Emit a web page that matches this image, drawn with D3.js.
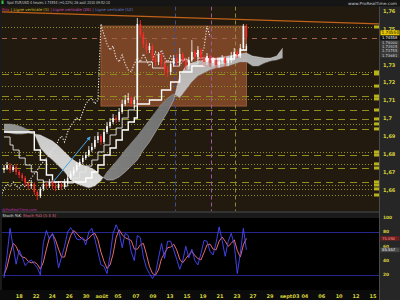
<!DOCTYPE html>
<html><head><meta charset="utf-8">
<script src="https://cdn.jsdelivr.net/npm/d3@7/dist/d3.min.js"></script>
<style>
html,body{margin:0;padding:0;background:#1b1b1b;overflow:hidden}
svg{display:block}
text{font-family:"DejaVu Sans",sans-serif}
</style></head><body>
<svg id="chart" width="400" height="300"></svg>
<script>
// ---------------- DATA ----------------
const firstOpen = 1.6712;
const closes = [1.6723,1.6740,1.6712,1.6729,1.6701,1.6684,1.6667,1.6639,1.6622,1.6634,
1.6589,1.6566,1.6606,1.6634,1.6622,1.6645,1.6622,1.6611,1.6634,1.6617,
1.6645,1.6667,1.6690,1.6712,1.6740,1.6757,1.6779,1.6796,1.6824,1.6841,
1.6880,1.6902,1.6869,1.6925,1.6958,1.6981,1.7003,1.6992,1.7037,1.7082,
1.7104,1.7115,1.7082,1.7104,1.7530,1.7468,1.7418,1.7384,1.7406,1.7339,
1.7317,1.7356,1.7306,1.7272,1.7261,1.7306,1.7339,1.7317,1.7362,1.7328,
1.7294,1.7328,1.7373,1.7345,1.7384,1.7339,1.7317,1.7350,1.7311,1.7328,
1.7300,1.7322,1.7339,1.7311,1.7328,1.7350,1.7373,1.7356,1.7395,1.7518,1.7457];
const highs = [1.6740,1.6757,1.6751,1.6740,1.6746,1.6712,1.6695,1.6678,1.6650,1.6656,
1.6645,1.6600,1.6617,1.6650,1.6645,1.6662,1.6656,1.6639,1.6650,1.6645,
1.6662,1.6684,1.6706,1.6729,1.6757,1.6774,1.6796,1.6813,1.6846,1.6863,
1.6902,1.6925,1.6914,1.6942,1.6981,1.7003,1.7026,1.7020,1.7059,1.7104,
1.7132,1.7143,1.7126,1.7121,1.7563,1.7552,1.7485,1.7440,1.7423,1.7418,
1.7356,1.7373,1.7373,1.7328,1.7294,1.7322,1.7356,1.7362,1.7395,1.7373,
1.7345,1.7345,1.7440,1.7384,1.7406,1.7395,1.7356,1.7367,1.7362,1.7345,
1.7345,1.7339,1.7356,1.7350,1.7345,1.7373,1.7395,1.7384,1.7418,1.7530,1.7530];
const lows = [1.6695,1.6712,1.6695,1.6701,1.6684,1.6667,1.6650,1.6622,1.6600,1.6606,
1.6572,1.6544,1.6555,1.6594,1.6606,1.6611,1.6606,1.6594,1.6600,1.6600,
1.6606,1.6634,1.6656,1.6678,1.6701,1.6729,1.6746,1.6768,1.6785,1.6813,
1.6830,1.6863,1.6852,1.6858,1.6914,1.6947,1.6970,1.6975,1.6981,1.7026,
1.7070,1.7087,1.7065,1.7059,1.7082,1.7451,1.7395,1.7362,1.7367,1.7317,
1.7294,1.7300,1.7283,1.7244,1.7233,1.7244,1.7289,1.7294,1.7306,1.7311,
1.7272,1.7278,1.7317,1.7328,1.7334,1.7322,1.7294,1.7300,1.7289,1.7294,
1.7278,1.7283,1.7306,1.7289,1.7294,1.7311,1.7334,1.7339,1.7339,1.7384,1.7440];

const tenkanIdx = [0,2,3,5,7,9,11,13,20,21,23,25,27,29,31,33,35,37,39,41,43,44,49,53,56,58,61,64,67,70,73,76,78,80];
const tenkanVal = [1.6897,1.6852,1.6824,1.6779,1.6740,1.6701,1.6656,1.6645,1.6622,1.6639,1.6667,1.6701,1.6734,1.6768,1.6813,1.6852,1.6908,1.6947,1.7003,1.7048,1.7070,1.7317,1.7283,1.7317,1.7294,1.7328,1.7306,1.7339,1.7328,1.7311,1.7328,1.7350,1.7384,1.7418];
const kijunIdx = [0,9,10,12,14,16,27,29,31,33,35,37,39,41,43,44,48,52,55,58,62,66,76,78,80];
const kijunVal = [1.6925,1.6925,1.6824,1.6768,1.6684,1.6645,1.6667,1.6701,1.6740,1.6796,1.6835,1.6880,1.6936,1.6981,1.7003,1.7082,1.7104,1.7160,1.7205,1.7261,1.7294,1.7334,1.7356,1.7384,1.7406];

const cloudIdx = [0,2,4,6,8,10,12,14,16,18,20,22,24,26,28,30,32,34,36,38,40,42,44,46,48,50,52,54,56,58,60,62,64,66,68,70,72,74,76,78,80,82,84,86,88,90,92];
const senkouA = [1.6925,1.6919,1.6914,1.6914,1.6919,1.6914,1.6908,1.6891,1.6874,1.6846,1.6813,1.6779,1.6757,1.6740,1.6729,1.6712,1.6678,1.6656,1.6656,1.6673,1.6701,1.6734,1.6768,1.6824,1.6869,1.6925,1.6981,1.7037,1.7104,1.7238,1.7294,1.7311,1.7322,1.7328,1.7334,1.7339,1.7345,1.7350,1.7356,1.7362,1.7367,1.7350,1.7345,1.7339,1.7339,1.7350,1.7395];
const senkouB = [1.6970,1.6970,1.6964,1.6953,1.6936,1.6914,1.6835,1.6796,1.6768,1.6734,1.6701,1.6656,1.6634,1.6622,1.6611,1.6622,1.6650,1.6701,1.6740,1.6779,1.6824,1.6863,1.6902,1.6947,1.6992,1.7037,1.7082,1.7115,1.7138,1.7115,1.7160,1.7205,1.7238,1.7255,1.7272,1.7283,1.7289,1.7294,1.7306,1.7317,1.7317,1.7294,1.7294,1.7311,1.7322,1.7328,1.7339];
const chikouShift = 12;

const stochK = [16,47,85,60,35,55,45,33,38,41,35,30,20,65,82,70,78,59,30,45,60,80,86,79,70,69,72,62,80,85,70,52,34,32,22,47,78,90,80,58,78,75,52,40,75,72,45,30,22,15,22,44,64,43,67,67,55,42,28,40,60,44,56,40,34,50,68,67,53,48,65,87,68,46,67,78,62,22,50,85,55];
const stochD = [20,31,49,64,60,50,45,44,39,37,38,35,28,38,56,72,77,69,56,45,45,62,75,82,78,73,70,68,71,76,78,69,52,39,29,34,49,72,83,76,72,70,68,56,56,62,64,49,32,22,20,27,43,50,58,59,63,55,42,37,43,48,53,47,43,41,51,62,63,56,55,67,73,67,60,64,69,54,45,62,71];

const dottedLevels = [1.7513,1.7261,1.7182,1.7110,1.6970,1.6813,1.6746,1.6628,1.6606,1.6572];
const dashedLevels = [1.7250,1.7126,1.7048,1.6998,1.6942,1.6796,1.6723,1.6645];
const accentLevels = [1.7451];
const verticalLineIdx = [56.4, 68.3, 76.2];           // Ligne verticale (52), (26), (5)
const boxIdx = [32, 80];
const boxPrice = [1.7070, 1.7518];
const blueTrend = [[16.2, 1.6645], [28.4, 1.6897]];
const orangeTrend = [[-0.66, 1.7597], [123.8, 1.7530]];

const priceTicks = [1.76, 1.75, 1.73, 1.72, 1.71, 1.70, 1.69, 1.68, 1.67, 1.66];
const stochTicks = [100, 80, 60, 40, 20];
const xTickIdx = [5, 10.6, 15.9, 21.5, 27.1, 32.3, 37.6, 43.6, 49.2, 54.8, 60.4, 65.7, 71.3, 76.9, 82.2, 87.8, 93.4, 96.4, 99.3, 104.9, 110.6, 116.2, 121.8];
const xTickLabels = ["18","22","24","26","30","août","05","07","09","13","15","19","21","23","27","29","sept.","03","04","06","10","12","15"];
const lastPrice = 1.74554;
const sideLabels = ["1.74554", "1.74558", "1.74000", "1.73925", "1.73755", "1.73681"];
const stochLast = ["75.092", "55.557"];
const legendTexts = ["Prix", "| Ligne verticale (5)", "| Ligne verticale (26)", "| Ligne verticale (52)"];

// ---------------- LAYOUT ----------------
const svg = d3.select("#chart");
const L = 2, R = 379, MT = 6.5, MB = 211, ST = 213, SB = 290;

const x = d3.scaleLinear().domain([0, 80]).range([4, 246.4]);
const y = d3.scaleLinear().domain([1.66, 1.73]).range([190, 65]);
const ys = d3.scaleLinear().domain([0, 100]).range([289.3, 217.6]);

const defs = svg.append("defs");
defs.append("clipPath").attr("id", "mainClip").append("rect")
  .attr("x", L).attr("y", MT).attr("width", R - L).attr("height", MB - MT);
defs.append("clipPath").attr("id", "stClip").append("rect")
  .attr("x", L).attr("y", ST).attr("width", R - L).attr("height", SB - ST);
const gl = defs.append("linearGradient").attr("id", "gLight").attr("x1", 0).attr("x2", 0).attr("y1", 0).attr("y2", 1);
gl.append("stop").attr("offset", "0%").attr("stop-color", "#b4b4b4");
gl.append("stop").attr("offset", "100%").attr("stop-color", "#e6e6e6");
const gd = defs.append("linearGradient").attr("id", "gDark").attr("x1", 0).attr("x2", 1).attr("y1", 0).attr("y2", 0);
gd.append("stop").attr("offset", "0%").attr("stop-color", "#9a9a9a");
gd.append("stop").attr("offset", "100%").attr("stop-color", "#5e5e5e");

// backgrounds
svg.append("rect").attr("width", 400).attr("height", 300).attr("fill", "#1b1b1b");
svg.append("rect").attr("x", 0).attr("y", 0).attr("width", 400).attr("height", MT).attr("fill", "#151515");
svg.append("rect").attr("x", L).attr("y", MT).attr("width", R - L).attr("height", MB - MT).attr("fill", "#231a0f");
svg.append("rect").attr("x", L).attr("y", MB).attr("width", R - L).attr("height", ST - MB).attr("fill", "#333");
svg.append("rect").attr("x", L).attr("y", ST).attr("width", R - L).attr("height", SB - ST).attr("fill", "#000");
svg.append("rect").attr("x", 0).attr("y", SB).attr("width", 380).attr("height", 300 - SB).attr("fill", "#0b0b0b");
svg.append("rect").attr("x", 380).attr("y", MT).attr("width", 20).attr("height", 300 - MT).attr("fill", "#262626");
svg.append("line").attr("x1", 379.5).attr("x2", 379.5).attr("y1", MT).attr("y2", 300).attr("stroke", "#4a4a4a");

// ---------------- MAIN PANEL ----------------
const main = svg.append("g").attr("clip-path", "url(#mainClip)");

// orange box
main.append("rect")
  .attr("x", x(boxIdx[0])).attr("y", y(boxPrice[1]))
  .attr("width", x(boxIdx[1]) - x(boxIdx[0])).attr("height", y(boxPrice[0]) - y(boxPrice[1]))
  .attr("fill", "#7a4427").attr("stroke", "#a8643a").attr("stroke-width", 0.8);

// horizontal levels
const lvColor = "#8f8f1e";
main.selectAll(".dot").data(dottedLevels).join("line")
  .attr("x1", L).attr("x2", R).attr("y1", d => Math.round(y(d)) + 0.5).attr("y2", d => Math.round(y(d)) + 0.5)
  .attr("stroke", lvColor).attr("stroke-width", 1).attr("stroke-dasharray", "1,2");
main.selectAll(".dash").data(dashedLevels).join("line")
  .attr("x1", L).attr("x2", R).attr("y1", d => Math.round(y(d)) + 0.5).attr("y2", d => Math.round(y(d)) + 0.5)
  .attr("stroke", lvColor).attr("stroke-width", 1).attr("stroke-dasharray", "7,5");
main.selectAll(".acc").data(accentLevels).join("line")
  .attr("x1", L).attr("x2", R).attr("y1", d => Math.round(y(d)) + 0.5).attr("y2", d => Math.round(y(d)) + 0.5)
  .attr("stroke", "#a0604c").attr("stroke-width", 1).attr("stroke-dasharray", "5,5");

// vertical lines
const vColors = ["#3c4f95", "#9a5aa0", "#8d8a3a"];
main.selectAll(".vl").data(verticalLineIdx).join("line")
  .attr("x1", d => Math.round(x(d)) + 0.5).attr("x2", d => Math.round(x(d)) + 0.5)
  .attr("y1", MT).attr("y2", MB)
  .attr("stroke", (d, i) => vColors[i]).attr("stroke-width", 1).attr("stroke-dasharray", "4,3");

// orange trend line
main.append("line")
  .attr("x1", x(orangeTrend[0][0])).attr("y1", y(orangeTrend[0][1]))
  .attr("x2", x(orangeTrend[1][0])).attr("y2", y(orangeTrend[1][1]))
  .attr("stroke", "#c0621a").attr("stroke-width", 1.3);

// cloud
const cloud = cloudIdx.map((c, k) => ({ i: c, a: senkouA[k], b: senkouB[k] }));
defs.append("clipPath").attr("id", "aboveB").append("path")
  .attr("d", d3.area().x(d => x(d.i)).y0(0).y1(d => y(d.b))(cloud));
defs.append("clipPath").attr("id", "belowB").append("path")
  .attr("d", d3.area().x(d => x(d.i)).y0(d => y(d.b)).y1(300)(cloud));
const between = d3.area().x(d => x(d.i)).y0(d => y(d.a)).y1(d => y(d.b));
main.append("g").attr("clip-path", "url(#aboveB)").append("path")
  .attr("d", between(cloud)).attr("fill", "url(#gLight)").attr("fill-opacity", 0.95);
main.append("g").attr("clip-path", "url(#belowB)").append("path")
  .attr("d", between(cloud)).attr("fill", "url(#gDark)").attr("fill-opacity", 0.95);
const lineA = d3.line().x(d => x(d.i)).y(d => y(d.a));
const lineB = d3.line().x(d => x(d.i)).y(d => y(d.b));
main.append("path").attr("d", lineA(cloud)).attr("fill", "none").attr("stroke", "#f0f0f0").attr("stroke-width", 0.6).attr("opacity", 0.6);
main.append("path").attr("d", lineB(cloud)).attr("fill", "none").attr("stroke", "#a0a0a0").attr("stroke-width", 0.6).attr("opacity", 0.6);

// kijun & tenkan
const step = d3.line().curve(d3.curveStepAfter).x(d => x(d[0])).y(d => y(d[1]));
main.append("path").attr("d", step(kijunIdx.map((v, k) => [v, kijunVal[k]])))
  .attr("fill", "none").attr("stroke", "#ffffff").attr("stroke-width", 1.4);
main.append("path").attr("d", step(tenkanIdx.map((v, k) => [v, tenkanVal[k]])))
  .attr("fill", "none").attr("stroke", "#e6e6e6").attr("stroke-width", 0.9);

// chikou (close shifted back)
const chik = closes.map((c, i) => [i - chikouShift, c]).filter(d => d[0] >= -1);
main.append("path").attr("d", d3.line().x(d => x(d[0])).y(d => y(d[1]))(chik))
  .attr("fill", "none").attr("stroke", "#e8e8e8").attr("stroke-width", 1.1).attr("stroke-dasharray", "1.2,1.6");

// candles
const candles = closes.map((c, i) => ({ i, o: i === 0 ? firstOpen : closes[i - 1], c, h: highs[i], l: lows[i] }));
const cg = main.append("g");
cg.selectAll(".wk").data(candles).join("line")
  .attr("x1", d => x(d.i)).attr("x2", d => x(d.i))
  .attr("y1", d => y(d.h)).attr("y2", d => y(d.l))
  .attr("stroke", d => d.c >= d.o ? "#ffffff" : "#ff2b2b").attr("stroke-width", 0.8);
cg.selectAll(".bd").data(candles).join("rect")
  .attr("x", d => x(d.i) - 0.8).attr("width", 1.6)
  .attr("y", d => y(Math.max(d.o, d.c)))
  .attr("height", d => Math.max(1, Math.abs(y(d.o) - y(d.c))))
  .attr("fill", d => d.c >= d.o ? "#ffffff" : "#ff2b2b");

// blue trend line with arrow
defs.append("marker").attr("id", "arr").attr("viewBox", "0 0 6 6").attr("refX", 5).attr("refY", 3)
  .attr("markerWidth", 4).attr("markerHeight", 4).attr("orient", "auto")
  .append("path").attr("d", "M0,0L6,3L0,6Z").attr("fill", "#47a6e6");
main.append("line")
  .attr("x1", x(blueTrend[0][0])).attr("y1", y(blueTrend[0][1]))
  .attr("x2", x(blueTrend[1][0])).attr("y2", y(blueTrend[1][1]))
  .attr("stroke", "#47a6e6").attr("stroke-width", 1).attr("marker-end", "url(#arr)");

// level markers at right edge
main.selectAll(".mk").data(dottedLevels.concat(dashedLevels)).join("rect")
  .attr("x", R - 5).attr("y", d => y(d) - 1.5).attr("width", 5).attr("height", 3).attr("fill", "#b8b21a");

// legend: separate texts laid out one after another
const legendColors = ["#d0409c", "#c8c030", "#c050c0", "#5a78d8"];
let lx = 2;
legendTexts.forEach((t, k) => {
  const tx = svg.append("text").attr("x", lx).attr("y", 11.2).attr("font-size", 3.9)
    .attr("fill", legendColors[k]).text(t);
  lx += tx.node().getComputedTextLength() + 1.6;
});

svg.append("text").attr("x", 2).attr("y", 210.5).attr("font-size", 3.6).attr("fill", "#b030b0").text("@ProRealTime.com");

// header
svg.append("rect").attr("x", 1.5).attr("y", 0.5).attr("width", 2).attr("height", 3.5).attr("fill", "#3fbf3f");
svg.append("text").attr("x", 7).attr("y", 4.4).attr("font-size", 4).attr("fill", "#c8c8c8")
  .attr("textLength", 103).attr("lengthAdjust", "spacingAndGlyphs")
  .text("Spot EUR/USD    4 heures    1.74554 (+0,22%)   26 août 2010 09:52:10");
svg.append("text").attr("x", 348).attr("y", 5).attr("font-size", 4.2).attr("fill", "#c8c8c8")
  .attr("textLength", 49).attr("lengthAdjust", "spacingAndGlyphs").text("www.ProRealTime.com");

// price axis labels
const ax = svg.append("g").attr("font-size", 5).attr("fill", "#d6d23a").attr("font-weight", "bold");
ax.selectAll(".pt").data(priceTicks).join("text")
  .attr("x", 383).attr("y", d => y(d) + 1.5).text(d => String(+d.toFixed(2)).replace(".", ","));

// side price boxes
const sy0 = y(lastPrice) - 4.5;
svg.append("rect").attr("x", 380.5).attr("y", sy0 - 2.4).attr("width", 19).attr("height", 5).attr("fill", "#e8c800");
svg.append("text").attr("x", 381.5).attr("y", sy0 + 1.6).attr("font-size", 4.2).attr("fill", "#000").text(sideLabels[0]);
svg.append("rect").attr("x", 380.5).attr("y", sy0 + 3).attr("width", 19).attr("height", 4.4).attr("fill", "#0e0e0e");
svg.append("rect").attr("x", 380.5).attr("y", sy0 + 7.8).attr("width", 19).attr("height", 17).attr("fill", "#3a3a3a");
sideLabels.slice(1).forEach((t, k) => {
  svg.append("text").attr("x", 382).attr("y", sy0 + 6.6 + k * 4.3).attr("font-size", 3.7)
    .attr("fill", k === 0 ? "#ffffff" : "#dedede").text(t);
});

// ---------------- STOCHASTIC ----------------
svg.append("rect").attr("x", L).attr("y", ST).attr("width", R - L).attr("height", 5).attr("fill", "#1a1a1a");
const t1 = svg.append("text").attr("x", 2.5).attr("y", 217.2).attr("font-size", 3.9).attr("fill", "#e0e0e0").text("Stoch %K");
svg.append("text").attr("x", 2.5 + t1.node().getComputedTextLength() + 2).attr("y", 217.2).attr("font-size", 3.9)
  .attr("fill", "#e06a80").text("Stoch %D (5 3 3)");

const st = svg.append("g").attr("clip-path", "url(#stClip)");
st.selectAll(".sl").data([80, 20]).join("line")
  .attr("x1", L).attr("x2", R).attr("y1", d => Math.round(ys(d)) + 0.5).attr("y2", d => Math.round(ys(d)) + 0.5)
  .attr("stroke", "#26268c").attr("stroke-width", 1);
const sl = d3.line().x((d, i) => x(i)).y(d => ys(d));
st.append("path").attr("d", sl(stochD)).attr("fill", "none").attr("stroke", "#e86a6a").attr("stroke-width", 1);
st.append("path").attr("d", sl(stochK)).attr("fill", "none").attr("stroke", "#4848ff").attr("stroke-width", 0.9);

ax.selectAll(".stt").data(stochTicks).join("text")
  .attr("x", 383).attr("y", d => ys(d) + 1.5).attr("font-size", 4.4).text(d => d);
svg.append("rect").attr("x", 380.5).attr("y", ys(stochD[80]) - 2.3).attr("width", 19).attr("height", 4.6).attr("fill", "#6a2020");
svg.append("text").attr("x", 382).attr("y", ys(stochD[80]) + 1.4).attr("font-size", 3.8).attr("fill", "#ff9090").text(stochLast[0]);
svg.append("rect").attr("x", 380.5).attr("y", ys(stochK[80]) - 2.3).attr("width", 19).attr("height", 4.6).attr("fill", "#4a4a4a");
svg.append("text").attr("x", 382).attr("y", ys(stochK[80]) + 1.4).attr("font-size", 3.8).attr("fill", "#ffffff").text(stochLast[1]);

// x axis
svg.append("g").attr("font-size", 5).attr("fill", "#d6d23a").attr("font-weight", "bold")
  .selectAll("text").data(xTickIdx).join("text")
  .attr("x", d => x(d)).attr("y", 298).attr("text-anchor", "middle").text((d, i) => xTickLabels[i]);
</script>
</body></html>
